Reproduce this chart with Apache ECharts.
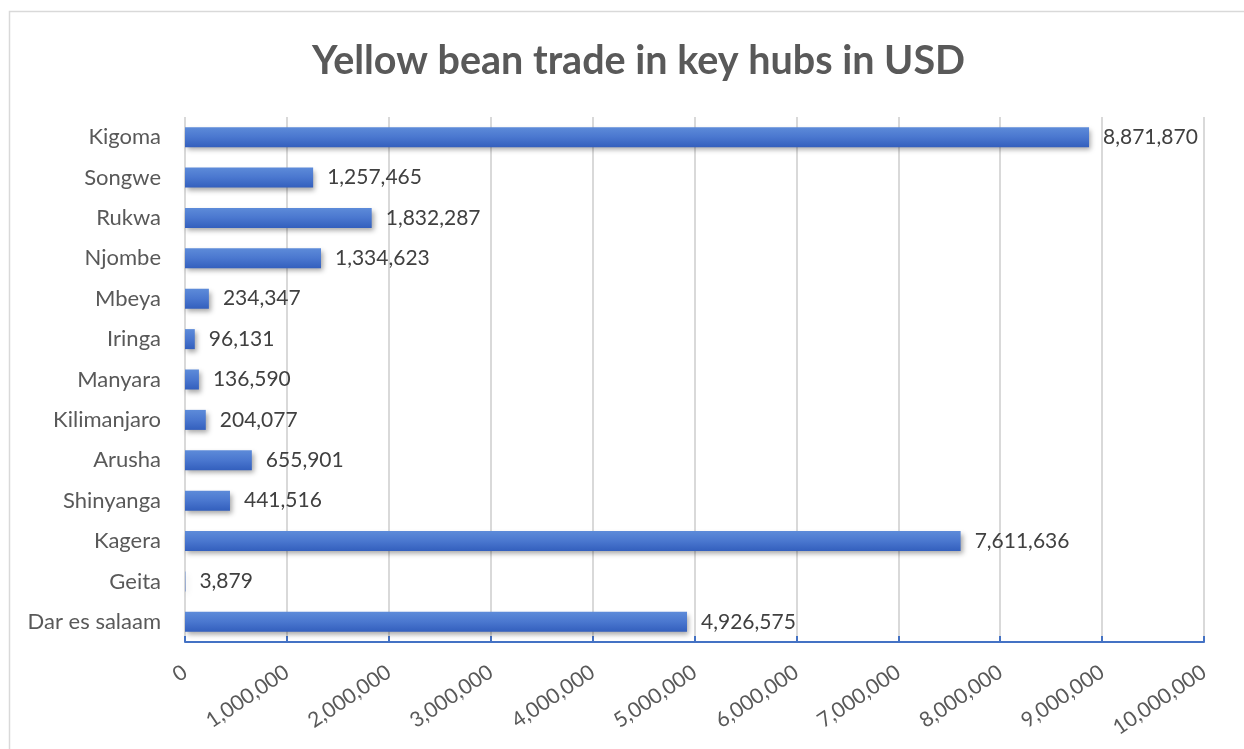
<!DOCTYPE html>
<html>
<head>
<meta charset="utf-8">
<script src="https://cdn.jsdelivr.net/npm/echarts@6/dist/echarts.min.js"></script>
<style>
  html, body { margin: 0; padding: 0; background: #ffffff; }
  #chart { width: 1244px; height: 749px; }
</style>
</head>
<body>
<div id="chart"></div>
<script>
// Trade hubs, listed top to bottom
const hubs = ['Kigoma', 'Songwe', 'Rukwa', 'Njombe', 'Mbeya', 'Iringa', 'Manyara',
  'Kilimanjaro', 'Arusha', 'Shinyanga', 'Kagera', 'Geita', 'Dar es salaam'];
// Yellow bean trade value per hub, USD
const tradeUsd = [8871870, 1257465, 1832287, 1334623, 234347, 96131, 136590,
  204077, 655901, 441516, 7611636, 3879, 4926575];
// Value axis range
const axisMin = 0;
const axisMax = 10000000;
const axisStep = 1000000;

const fmt = v => Number(v).toLocaleString('en-US');
const font = 'Lato, "Open Sans", sans-serif';

const chart = echarts.init(document.getElementById('chart'), null, { renderer: 'canvas' });
chart.setOption({
  backgroundColor: '#ffffff',
  animation: false,
  title: {
    text: 'Yellow bean trade in key hubs in USD',
    left: 307,
    top: 36,
    textStyle: { fontFamily: font, fontSize: 39.5, fontWeight: 'bold', color: '#595959' }
  },
  graphic: [{
    type: 'rect',
    shape: { x: 9.5, y: 11.5, width: 1400, height: 900 },
    style: { fill: 'none', stroke: '#d9d9d9', lineWidth: 1.5 },
    silent: true,
    z: -1
  }],
  grid: { left: 185, right: 40, top: 117, bottom: 107, containLabel: false },
  xAxis: {
    type: 'value',
    min: axisMin,
    max: axisMax,
    interval: axisStep,
    axisLine: { show: true, lineStyle: { color: '#4472c4', width: 2 } },
    axisTick: { show: true, inside: true, length: 6, lineStyle: { color: '#4472c4', width: 2 } },
    splitLine: { show: true, lineStyle: { color: '#d9d9d9', width: 2 } },
    axisLabel: {
      rotate: 34,
      margin: 28,
      formatter: fmt,
      fontFamily: font,
      fontSize: 21,
      color: '#595959'
    }
  },
  yAxis: {
    type: 'category',
    data: hubs,
    inverse: true,
    axisLine: { show: false },
    axisTick: { show: false },
    axisLabel: { margin: 24, fontFamily: font, fontSize: 22, color: '#595959' }
  },
  series: [{
    type: 'bar',
    data: tradeUsd,
    barWidth: 20,
    itemStyle: {
      color: new echarts.graphic.LinearGradient(0, 0, 0, 1, [
        { offset: 0, color: '#5d8bd9' },
        { offset: 0.5, color: '#4a77cf' },
        { offset: 1, color: '#335fbd' }
      ]),
      shadowColor: 'rgba(0,0,0,0.35)',
      shadowBlur: 5,
      shadowOffsetX: 2,
      shadowOffsetY: 3
    },
    label: {
      show: true,
      position: 'right',
      distance: 14,
      formatter: p => fmt(p.value),
      fontFamily: font,
      fontSize: 21,
      color: '#404040'
    }
  }]
});
</script>
</body>
</html>
